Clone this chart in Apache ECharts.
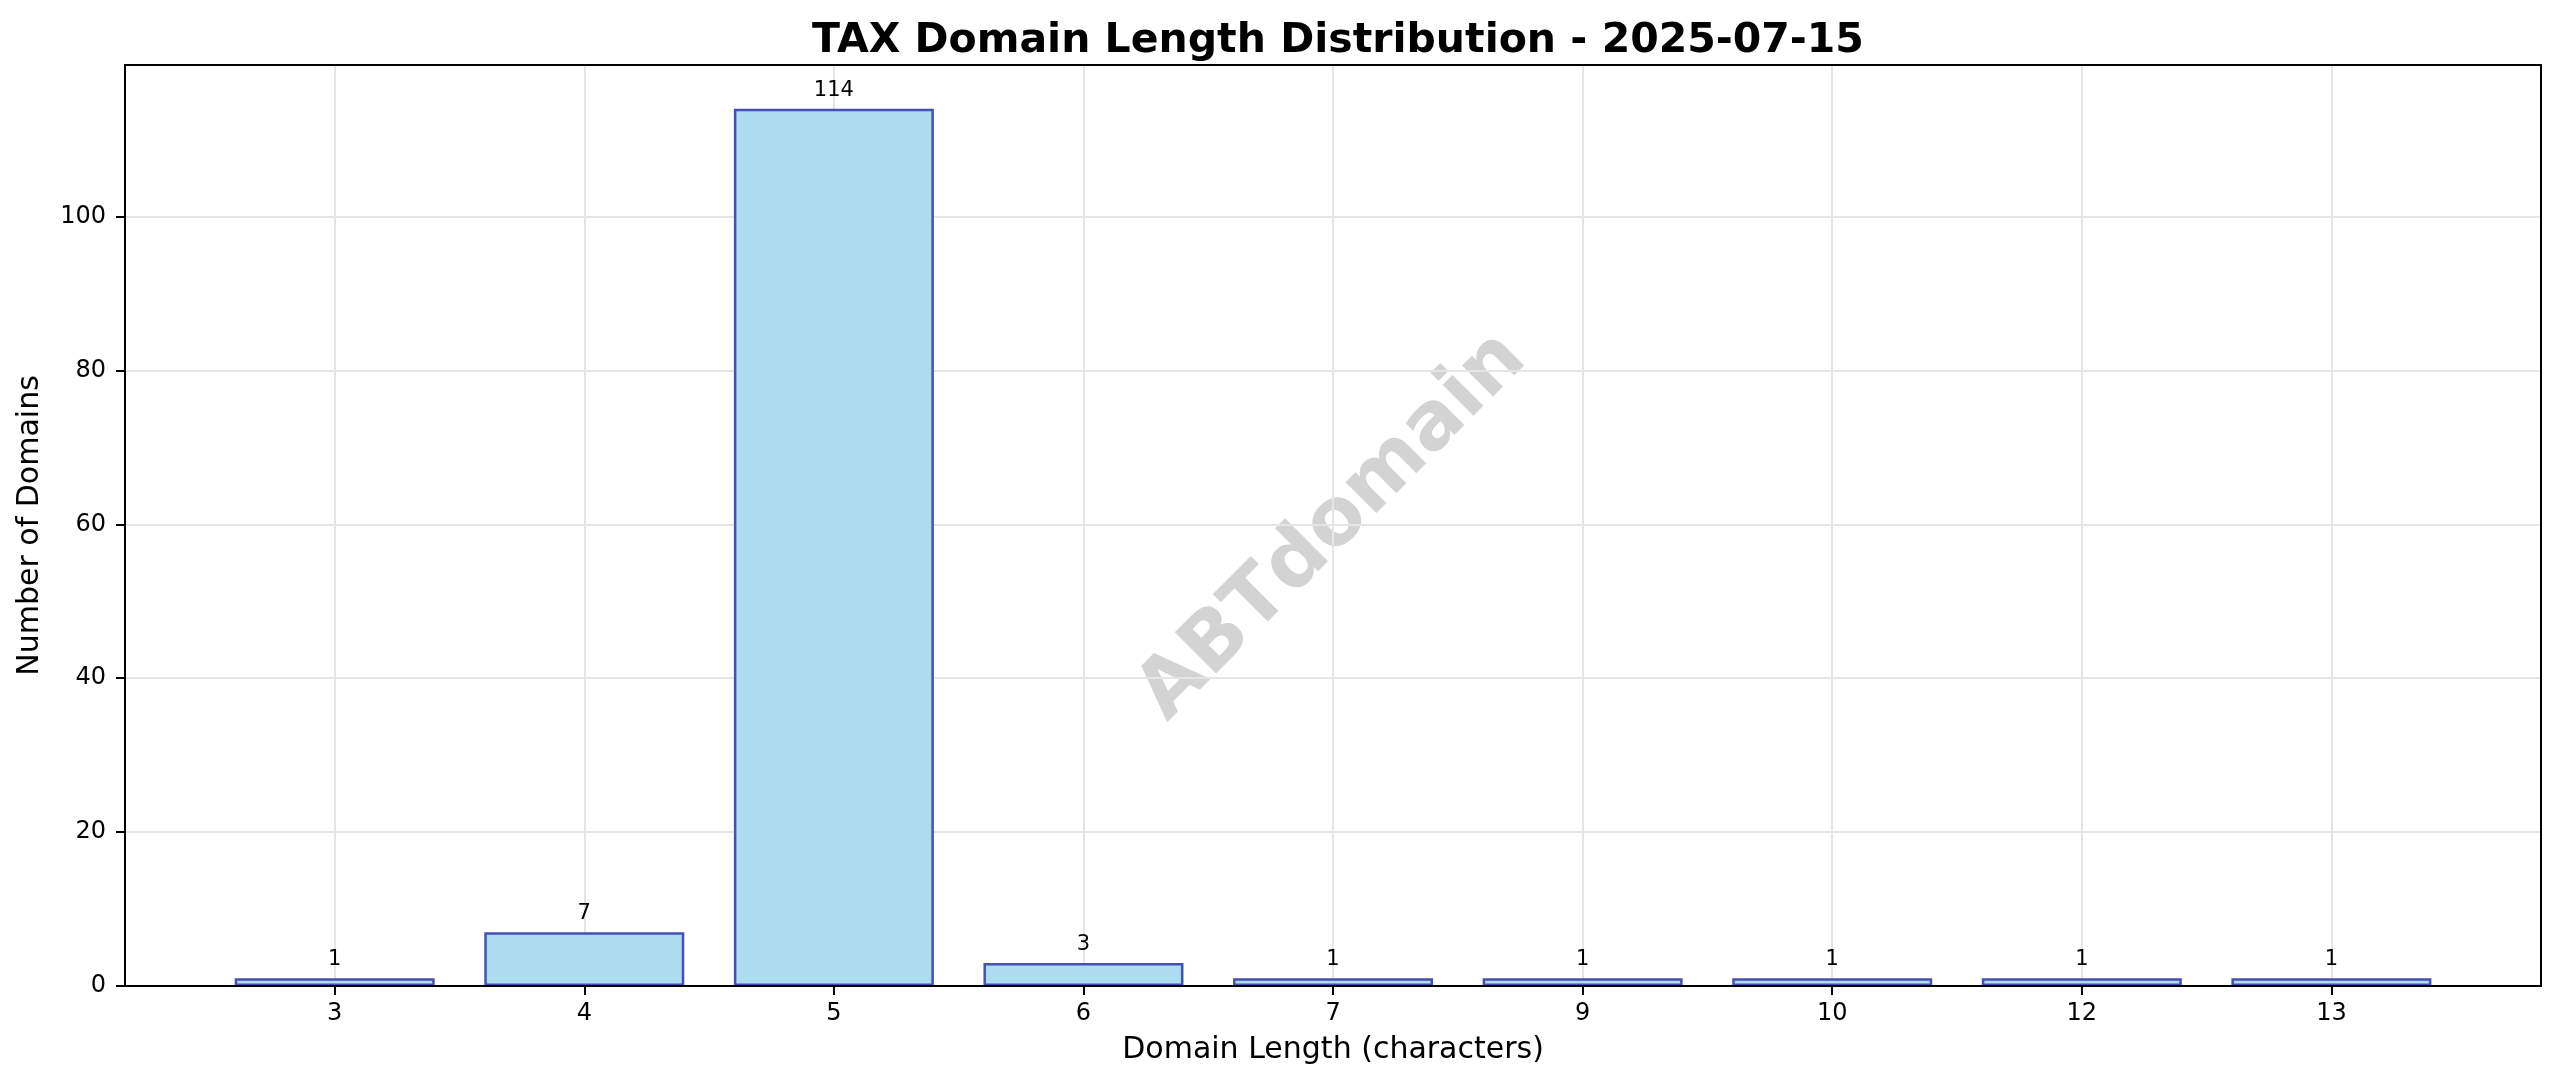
<!DOCTYPE html>
<html>
<head>
<meta charset="utf-8">
<script src="https://cdn.jsdelivr.net/npm/echarts@6/dist/echarts.min.js"></script>
<style>html,body{margin:0;padding:0;background:#fff}#c{width:2560px;height:1088px}</style>
</head>
<body>
<div id="c"></div>
<script>
const categories = ['3', '4', '5', '6', '7', '9', '10', '12', '13'];
const counts = [1, 7, 114, 3, 1, 1, 1, 1, 1];
const yTicks = [0, 20, 40, 60, 80, 100];
const titleText = 'TAX Domain Length Distribution - 2025-07-15';
const xName = 'Domain Length (characters)';
const yName = 'Number of Domains';
const watermark = 'ABTdomain';

const FONT = 'DejaVu Sans';
const yMax = 119.7;
const frameLine = {show: true, onZero: false, lineStyle: {color: '#000', width: 2}};
const off = {show: false};

const chart = echarts.init(document.getElementById('c'), null, {renderer: 'canvas'});
chart.setOption({
  animation: false,
  backgroundColor: '#fff',
  title: {
    text: titleText,
    left: 1333, top: 16, textAlign: 'center',
    textStyle: {fontFamily: FONT, fontWeight: 'bold', fontSize: 41, color: '#000'}
  },
  grid: [
    {left: 125, right: 19, top: 65, bottom: 102},
    {left: 334.7, right: 228.6, top: 65, bottom: 102}
  ],
  xAxis: [
    {type: 'value', gridIndex: 0, position: 'bottom', min: 0, max: 1, z: 5,
     axisLine: frameLine, axisTick: off, axisLabel: off, splitLine: off},
    {
      type: 'category', gridIndex: 1, data: categories, boundaryGap: false,
      axisLine: {show: false},
      axisTick: {show: true, inside: false, length: 9, lineStyle: {color: '#000', width: 2}},
      axisLabel: {fontFamily: FONT, fontSize: 24, color: '#000', margin: 16},
      splitLine: {show: true, lineStyle: {color: '#E5E5E5', width: 2}},
      name: xName, nameLocation: 'middle', nameGap: 49,
      nameTextStyle: {fontFamily: FONT, fontSize: 30, color: '#000'}
    },
    {type: 'value', gridIndex: 0, position: 'top', min: 0, max: 1, z: 5,
     axisLine: frameLine, axisTick: off, axisLabel: off, splitLine: off}
  ],
  yAxis: [
    {
      type: 'value', gridIndex: 0, min: 0, max: yMax, z: 5,
      axisLabel: {
        fontFamily: FONT, fontSize: 24, color: '#000', margin: 19,
        customValues: yTicks
      },
      axisTick: {show: true, inside: false, length: 9, lineStyle: {color: '#000', width: 2}, customValues: yTicks},
      axisLine: frameLine,
      splitLine: off,
      name: yName, nameLocation: 'middle', nameGap: 80,
      nameTextStyle: {fontFamily: FONT, fontSize: 30, color: '#000'}
    },
    {type: 'value', gridIndex: 1, min: 0, max: yMax, show: false},
    {type: 'value', gridIndex: 0, position: 'right', min: 0, max: yMax, z: 5,
     axisLine: frameLine, axisTick: off, axisLabel: off, splitLine: off},
    {type: 'value', gridIndex: 0, min: 0, max: yMax, interval: 20, z: 0,
     axisLine: off, axisTick: off, axisLabel: off,
     splitLine: {show: true, lineStyle: {color: '#E5E5E5', width: 2}}}
  ],
  graphic: [{
    type: 'text', z: 0,
    x: 1333, y: 527,
    rotation: Math.PI / 4,
    style: {
      text: watermark, fontFamily: FONT, fontWeight: 'bold', fontSize: 80,
      fill: 'rgba(128,128,128,0.35)', align: 'center', verticalAlign: 'middle'
    }
  }],
  series: [{
    type: 'bar', xAxisIndex: 1, yAxisIndex: 1,
    data: counts, barWidth: 200, clip: false,
    itemStyle: {color: '#ABDCEF', borderColor: '#4550B0', borderWidth: 2.5},
    label: {show: true, position: 'top', distance: 8, fontFamily: FONT, fontSize: 21, color: '#000'}
  }]
});
</script>
</body>
</html>
